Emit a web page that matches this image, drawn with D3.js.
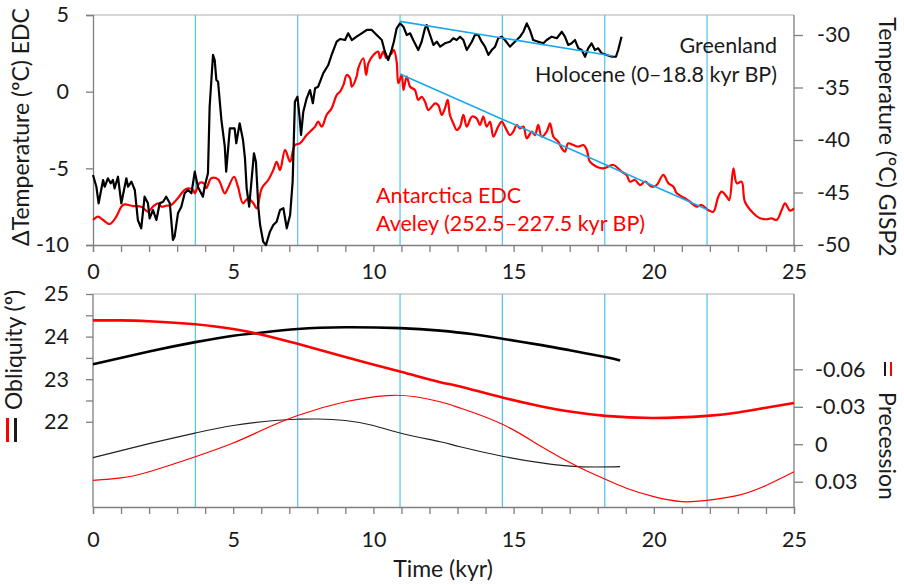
<!DOCTYPE html>
<html>
<head>
<meta charset="utf-8">
<script src="https://cdn.jsdelivr.net/npm/d3@7"></script>
<style>
  body { margin: 0; background: #fff; }
  svg { display: block; font-family: Lato, "Open Sans", sans-serif; }
  .axis path, .axis line { stroke: #7f7f7f; stroke-width: 1.3; }
  .axis text { font-size: 21.5px; fill: #1a1a1a; font-family: Lato, sans-serif; }
  .note { font-size: 21.5px; fill: #1a1a1a; }
  .title { font-size: 23px; fill: #1a1a1a; }
</style>
</head>
<body>
<svg width="904" height="585"></svg>
<script>
// cyan markers, kyr
const markerKyr = [3.65, 7.3, 10.95, 14.6, 18.25, 21.9];

// Antarctica EDC (Aveley), ΔT degC, left axis — [kyr, value]
const edcTemp = [
  [0,-8.37],[0.18,-8.15],[0.36,-8.37],[0.6,-8.63],[0.83,-8.15],[1.01,-7.5],[1.13,-7.35],[1.43,-7.46],
  [1.72,-7.5],[1.96,-7.83],[2.14,-7.5],[2.32,-7.28],[2.44,-7.5],[2.61,-7.44],[2.79,-7.39],[2.97,-7.07],
  [3.27,-6.41],[3.39,-6.3],[3.57,-6.41],[3.63,-6.63],[3.81,-5.94],[3.96,-5.98],[4.04,-6.3],[4.22,-5.65],
  [4.46,-5.72],[4.7,-6.63],[4.81,-6.3],[5.03,-5.55],[5.17,-6.2],[5.35,-7.28],[5.53,-6.95],[5.72,-7.28],
  [5.84,-7.61],[6.02,-6.3],[6.25,-5.76],[6.43,-5.11],[6.55,-4.57],[6.67,-5.11],[6.85,-3.8],[7.03,-4.57],
  [7.2,-3.48],[7.38,-3.37],[7.62,-2.83],[7.8,-2.5],[7.92,-2.28],[8.03,-1.96],[8.16,-2.28],[8.33,-1.52],
  [8.51,-1.09],[8.69,-0.22],[8.81,0],[8.93,0.43],[9.05,1.09],[9.17,0.87],[9.23,0.32],[9.4,0.98],
  [9.46,1.52],[9.64,2.18],[9.74,1.09],[9.82,1.85],[10,2.39],[10.17,2.61],[10.24,2.18],[10.35,2.61],
  [10.47,2.18],[10.65,2.5],[10.73,2.72],[10.83,1.95],[10.89,0.55],[11.01,1.09],[11.07,0.11],[11.19,0.98],
  [11.31,0.32],[11.48,0.11],[11.6,-0.54],[11.72,-0.33],[11.84,-0.65],[11.96,-1.2],[12.08,-0.98],[12.2,-0.76],
  [12.31,-0.87],[12.44,-1.52],[12.55,-1.09],[12.65,-0.54],[12.73,-1.52],[12.85,-2.06],[12.97,-2.5],[13.09,-2.28],
  [13.21,-1.52],[13.33,-2.28],[13.51,-1.63],[13.68,-1.74],[13.8,-2.17],[13.92,-1.63],[14.04,-2.28],[14.16,-1.96],
  [14.28,-2.94],[14.45,-2.28],[14.58,-1.96],[14.69,-2.28],[14.87,-2.83],[14.99,-2.61],[15.11,-2.17],[15.23,-2.39],
  [15.35,-2.28],[15.47,-3.04],[15.65,-2.61],[15.76,-2.83],[15.88,-2.17],[16,-2.94],[16.18,-2.61],[16.3,-2.06],
  [16.42,-2.94],[16.59,-3.26],[16.72,-3.69],[16.83,-3.92],[16.95,-3.37],[17.13,-3.48],[17.31,-3.59],[17.49,-3.48],
  [17.61,-3.8],[17.72,-4.57],[17.96,-4.89],[18.2,-5.0],[18.56,-4.78],[18.85,-5.22],[19.03,-5.43],[19.15,-5.87],
  [19.33,-5.76],[19.51,-6.09],[19.69,-5.87],[19.93,-6.2],[20.1,-6.09],[20.34,-5.43],[20.52,-5.98],[20.7,-6.2],
  [20.82,-6.63],[21.11,-6.95],[21.29,-7.18],[21.53,-7.5],[21.71,-7.39],[21.94,-7.72],[22.12,-7.83],[22.3,-6.85],
  [22.42,-6.52],[22.6,-6.85],[22.69,-7.07],[22.84,-5.0],[22.96,-5.98],[23.13,-5.87],[23.25,-7.18],[23.55,-7.93],
  [23.79,-8.26],[24.03,-8.32],[24.2,-8.26],[24.38,-8.37],[24.56,-7.72],[24.68,-7.28],[24.86,-7.76],[25,-7.61]
];

// Greenland GISP2 (Holocene), degC, right axis — [kyr, value]
const gispTemp = [
  [0,-43.33],[0.12,-44.45],[0.2,-46.03],[0.36,-43.81],[0.42,-44.45],[0.53,-43.65],[0.63,-44.12],[0.71,-43.81],
  [0.77,-44.6],[0.89,-43.5],[1.01,-46.03],[1.19,-43.65],[1.25,-44.45],[1.37,-43.97],[1.49,-44.76],[1.6,-47.62],
  [1.72,-48.41],[1.84,-45.4],[1.96,-46.03],[2.02,-47.46],[2.14,-46.67],[2.26,-47.62],[2.38,-46.03],[2.5,-45.88],
  [2.61,-45.4],[2.74,-46.03],[2.85,-49.52],[2.91,-49.21],[3.03,-46.98],[3.15,-46.35],[3.27,-45.08],[3.39,-44.76],
  [3.51,-45.08],[3.63,-43.02],[3.74,-44.45],[3.92,-45.4],[3.98,-44.45],[4.1,-43.17],[4.16,-36.83],[4.28,-31.9],
  [4.34,-32.38],[4.4,-34.29],[4.46,-34.45],[4.58,-38.1],[4.7,-40.64],[4.75,-43.02],[4.88,-38.89],[5.05,-38.89],
  [5.11,-40.31],[5.23,-38.41],[5.35,-40.0],[5.42,-41.74],[5.48,-44.6],[5.57,-46.35],[5.66,-43.65],[5.74,-41.27],
  [5.81,-42.07],[5.9,-46.5],[5.96,-48.1],[6.07,-49.69],[6.17,-50.0],[6.31,-48.73],[6.43,-48.1],[6.55,-47.78],
  [6.67,-46.67],[6.79,-46.5],[6.91,-48.41],[7.03,-47.14],[7.12,-43.97],[7.2,-36.35],[7.29,-35.88],[7.36,-37.62],
  [7.42,-39.52],[7.5,-37.3],[7.62,-36.03],[7.74,-35.24],[7.84,-36.5],[7.92,-35.08],[8.03,-34.92],[8.21,-33.65],
  [8.39,-32.86],[8.51,-31.9],[8.69,-30.64],[8.81,-30.38],[8.99,-30.48],[9.1,-29.84],[9.23,-30.48],[9.4,-30.16],
  [9.58,-29.84],[9.76,-29.52],[9.94,-29.52],[10.12,-30.0],[10.3,-30.48],[10.41,-31.59],[10.53,-32.38],[10.65,-31.43],
  [10.73,-30.64],[10.83,-29.36],[10.95,-28.89],[11.07,-29.21],[11.19,-30.0],[11.31,-29.84],[11.42,-30.48],[11.6,-31.43],
  [11.72,-30.64],[11.84,-29.36],[11.9,-29.05],[12.02,-30.0],[12.14,-30.95],[12.26,-30.64],[12.38,-31.11],[12.55,-30.79],
  [12.73,-30.64],[12.85,-30.31],[12.97,-30.48],[13.09,-30.16],[13.21,-30.48],[13.33,-31.43],[13.51,-30.64],[13.62,-30.0],
  [13.74,-30.0],[13.86,-30.64],[13.98,-31.11],[14.1,-31.9],[14.22,-31.43],[14.34,-31.11],[14.45,-30.31],[14.58,-30.16],
  [14.69,-30.48],[14.87,-31.11],[14.99,-30.79],[15.11,-30.48],[15.23,-30.16],[15.35,-29.69],[15.47,-28.89],[15.58,-29.52],
  [15.7,-30.48],[15.88,-30.64],[16.06,-30.79],[16.18,-30.48],[16.36,-30.16],[16.54,-30.31],[16.72,-29.69],[16.83,-30.16],
  [16.95,-30.95],[17.07,-30.79],[17.19,-30.48],[17.31,-31.27],[17.43,-31.43],[17.55,-32.07],[17.66,-31.27],[17.78,-30.79],
  [17.9,-31.43],[18.02,-31.27],[18.14,-31.74],[18.32,-31.9],[18.5,-32.07],[18.65,-32.07],[18.73,-31.43],[18.79,-30.79],
  [18.85,-30.16]
];

// trend lines
const gispTrend = [[10.95, -28.7], [18.55, -32.0]];
const edcTrend = [[10.95, 1.15], [21.92, -7.7]];

// obliquity (deg), left axis of lower panel
const oblGreenland = [[0,23.35],[2,23.65],[3.65,23.87],[5,24.02],[5.8,24.08],[7.3,24.18],[9,24.22],
  [10.95,24.2],[12.38,24.14],[13.5,24.06],[14.6,23.95],[16,23.8],[17,23.68],[18.27,23.52],[18.8,23.44]];
const oblAntarctica = [[0,24.38],[1,24.38],[2,24.36],[3.65,24.29],[5,24.18],[5.8,24.08],[7.3,23.83],[9,23.52],
  [10.95,23.18],[12.38,22.93],[13.09,22.83],[14.6,22.57],[16,22.36],[17,22.24],[18.27,22.14],[20,22.09],
  [21.9,22.14],[23,22.22],[24,22.33],[25,22.44]];

// precession, right axis of lower panel (inverted)
const precGreenland = [[0,0.0107],[2,-0.0005],[3.65,-0.009],[5,-0.015],[6.5,-0.019],[7.3,-0.02],[8,-0.0202],
  [9,-0.019],[10,-0.015],[10.95,-0.009],[12.38,-0.002],[13.09,0.002],[14.6,0.0096],[16,0.015],[17.3,0.018],[18.8,0.018]];
const precAntarctica = [[0,0.029],[1,0.027],[2,0.022],[3.65,0.01],[5,-0.001],[6,-0.011],[7.3,-0.023],[9,-0.034],
  [10.5,-0.039],[11.5,-0.038],[12.38,-0.034],[13.09,-0.029],[14.6,-0.016],[16,0.002],[17.3,0.018],[18.27,0.028],
  [19,0.035],[20,0.042],[21,0.046],[21.9,0.045],[23,0.041],[24,0.033],[25,0.022]];

const xTicks = d3.range(0, 26);
const topLeftTicks = [-10, -5, 0, 5];
const topRightTicks = [-50, -45, -40, -35, -30];
const oblTicks = [22, 22.5, 23, 23.5, 24, 24.5, 25];
const precTicks = [-0.06, -0.03, 0, 0.03];

const svg = d3.select("svg");
const cyan = "#4fc3f0";
const trendCyan = "#1aa9e8";
const plain = d => String(d);   // hyphen minus, like the original

const x = d3.scaleLinear().domain([0, 25]).range([93, 794]);

// top panel
const upper = {y0: 15, y1: 245};
const yEdc = d3.scaleLinear().domain([-10, 5]).range([upper.y1, upper.y0]);
const yGisp = d3.scaleLinear().domain([-50, -30]).range([upper.y1, 35]);

// bottom panel
const lower = {y0: 294, y1: 507};
const yObl = d3.scaleLinear().domain([20, 25]).range([lower.y1, lower.y0]);
const yPrec = d3.scaleLinear().domain([-0.06, 0.03]).range([369.3, 481.7]);

function panelFrame(p) {
  svg.append("line").attr("x1", x(0)).attr("x2", x(25)).attr("y1", p.y0).attr("y2", p.y0)
    .attr("stroke", "#c8c8c8").attr("stroke-width", 1.3);
  svg.selectAll(null).data(markerKyr).enter().append("line")
    .attr("x1", d => x(d)).attr("x2", d => x(d))
    .attr("y1", p.y0).attr("y2", p.y1)
    .attr("stroke", cyan).attr("stroke-width", 1.2);
}
panelFrame(upper);
panelFrame(lower);

function xAxis(yPos, pad) {
  svg.append("g").attr("class", "axis").attr("transform", `translate(0,${yPos})`)
    .call(d3.axisBottom(x).tickValues(xTicks).tickSize(7).tickPadding(pad)
      .tickFormat(d => d % 5 === 0 ? d : ""));
}
xAxis(upper.y1, 12);
xAxis(lower.y1, 18);

svg.append("g").attr("class", "axis").attr("transform", `translate(${x(0)},0)`)
  .call(d3.axisLeft(yEdc).tickValues(topLeftTicks).tickSize(7).tickPadding(17).tickFormat(plain));
svg.append("g").attr("class", "axis").attr("transform", `translate(${x(25)},0)`)
  .call(d3.axisRight(yGisp).tickValues(topRightTicks).tickSize(9).tickPadding(14).tickFormat(plain))
  .call(g => g.select(".domain").attr("d", `M0,${upper.y0}V${upper.y1}`));

svg.append("g").attr("class", "axis").attr("transform", `translate(${x(0)},0)`)
  .call(d3.axisLeft(yObl).tickValues(oblTicks).tickSize(7).tickPadding(17)
    .tickFormat(d => Number.isInteger(d) ? d : ""))
  .call(g => g.select(".domain").attr("d", `M0,${lower.y0}V${lower.y1}`));
svg.append("g").attr("class", "axis").attr("transform", `translate(${x(25)},0)`)
  .call(d3.axisRight(yPrec).tickValues(precTicks).tickSize(9).tickPadding(12)
    .tickFormat(d => d === 0 ? "0" : d.toFixed(2)))
  .call(g => g.select(".domain").attr("d", `M0,${lower.y0}V${lower.y1}`));

svg.selectAll(".axis .domain").attr("fill", "none");

// curves
function draw(data, ys, color, width, curve) {
  svg.append("path").datum(data)
    .attr("fill", "none").attr("stroke", color).attr("stroke-width", width)
    .attr("stroke-linejoin", "round")
    .attr("d", d3.line().x(d => x(d[0])).y(d => ys(d[1])).curve(curve));
}

draw(edcTemp, yEdc, "#ff0000", 2.2, d3.curveCatmullRom);
draw(gispTemp, yGisp, "#000", 2.2, d3.curveLinear);
draw(gispTrend, yGisp, trendCyan, 1.6, d3.curveLinear);
draw(edcTrend, yEdc, trendCyan, 1.6, d3.curveLinear);

draw(precGreenland, yPrec, "#222", 1.2, d3.curveNatural);
draw(precAntarctica, yPrec, "#ff0000", 1.2, d3.curveNatural);
draw(oblGreenland, yObl, "#000", 2.6, d3.curveNatural);
draw(oblAntarctica, yObl, "#ff0000", 2.6, d3.curveNatural);

// texts
svg.append("text").attr("class", "note").attr("x", 777).attr("y", 53).attr("text-anchor", "end").text("Greenland");
svg.append("text").attr("class", "note").attr("x", 777).attr("y", 82).attr("text-anchor", "end").text("Holocene (0–18.8 kyr BP)");
svg.append("text").attr("class", "note").attr("x", 376).attr("y", 203).style("fill", "#ff0000").text("Antarctica EDC");
svg.append("text").attr("class", "note").attr("x", 376).attr("y", 231).style("fill", "#ff0000").text("Aveley (252.5–227.5 kyr BP)");

svg.append("text").attr("class", "title").attr("text-anchor", "middle")
  .attr("transform", "translate(29,127) rotate(-90)").text("ΔTemperature (ºC) EDC");
svg.append("text").attr("class", "title").attr("text-anchor", "middle")
  .attr("transform", "translate(879,137) rotate(90)").text("Temperature (°C) GISP2");
svg.append("text").attr("class", "title").attr("text-anchor", "middle")
  .attr("transform", "translate(22,350) rotate(-90)").text("Obliquity (º)");
svg.append("text").attr("class", "title").attr("text-anchor", "middle")
  .attr("transform", "translate(879,446) rotate(90)").text("Precession");
svg.append("text").attr("class", "title").attr("text-anchor", "middle")
  .attr("x", 443).attr("y", 577).text("Time (kyr)");

// legend bars beside the lower axis titles
svg.append("line").attr("x1", 7.5).attr("x2", 7.5).attr("y1", 418).attr("y2", 442).attr("stroke", "#ff0000").attr("stroke-width", 3);
svg.append("line").attr("x1", 15.5).attr("x2", 15.5).attr("y1", 418).attr("y2", 442).attr("stroke", "#1a1a1a").attr("stroke-width", 3);
svg.append("line").attr("x1", 885).attr("x2", 885).attr("y1", 362).attr("y2", 376).attr("stroke", "#1a1a1a").attr("stroke-width", 2);
svg.append("line").attr("x1", 891).attr("x2", 891).attr("y1", 362).attr("y2", 376).attr("stroke", "#ff0000").attr("stroke-width", 2);
</script>
</body>
</html>
